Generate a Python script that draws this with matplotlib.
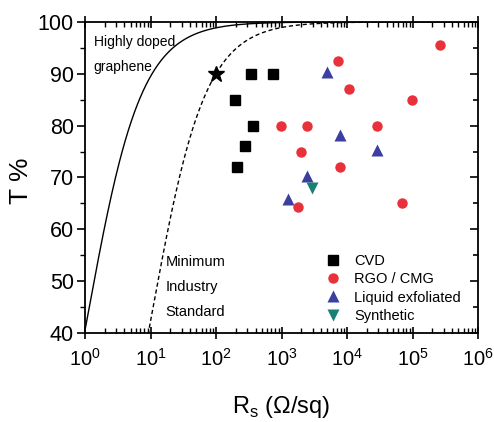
import numpy as np
from matplotlib import pyplot as plt
from matplotlib.ticker import LogLocator, MultipleLocator, NullFormatter

plt.rcParams['font.family'] = ['Liberation Sans', 'DejaVu Sans']
plt.rcParams['mathtext.fontset'] = 'custom'
plt.rcParams['mathtext.rm'] = 'Liberation Sans'

# data
cvd_rs = [340, 750, 195, 360, 275, 207]
cvd_t = [90, 90, 85, 80, 76, 72]

rgo_rs = [2.6e5, 7200, 1.08e4, 9.7e4, 990, 2450, 2.9e4, 1950, 7800, 1750, 6.8e4]
rgo_t = [95.6, 92.5, 87, 85, 80, 80, 80, 75, 72, 64.3, 65]

liq_rs = [4900, 7800, 2.9e4, 2450, 1250]
liq_t = [90.3, 78.2, 75.3, 70.3, 65.8]

syn_rs = [2950]
syn_t = [68]

star_rs = [100]
star_t = [90]

# sigma_dc / sigma_op ratios for the two model curves
ratio_doped = 330
ratio_industry = 35

rs = np.logspace(0, 6, 400)
def transmittance(rs, ratio):
    return 100 * (1 + 188.5 / (rs * ratio)) ** -2

fig = plt.figure(figsize=(4.94, 4.22), dpi=100)
ax = fig.add_axes([0.172, 0.211, 0.796, 0.737])

ax.plot(rs, transmittance(rs, ratio_doped), color='black', lw=1.0)
ax.plot(rs, transmittance(rs, ratio_industry), color='black', lw=1.0, ls=(0, (3, 2)))

ax.plot(cvd_rs, cvd_t, 's', color='black', ms=6.5, ls='none', label='CVD')
ax.plot(rgo_rs, rgo_t, 'o', color='#e8313a', mec='none', ms=7.5, ls='none', label='RGO / CMG')
ax.plot(liq_rs, liq_t, '^', color='#3b3fa0', mec='none', ms=8.5, ls='none', label='Liquid exfoliated')
ax.plot(syn_rs, syn_t, 'v', color='#1a8076', mec='none', ms=8.5, ls='none', label='Synthetic')
ax.plot(star_rs, star_t, '*', color='black', ms=12, ls='none')

ax.set_xscale('log')
ax.set_xlim(1, 1e6)
ax.set_ylim(40, 100)
ax.yaxis.set_major_locator(MultipleLocator(10))
ax.yaxis.set_minor_locator(MultipleLocator(5))
ax.xaxis.set_major_locator(LogLocator(base=10, numticks=10))
ax.xaxis.set_minor_locator(LogLocator(base=10, subs=np.arange(2, 10), numticks=20))
ax.xaxis.set_minor_formatter(NullFormatter())

for s in ax.spines.values():
    s.set_linewidth(1.3)
ax.tick_params(axis='both', which='major', width=1.2, length=6)
ax.tick_params(axis='both', which='minor', width=1.0, length=3.5)
ax.tick_params(axis='y', which='major', labelsize=15.5, pad=2)
ax.tick_params(axis='x', which='major', labelsize=14.5, direction='inout', top=True, length=8, pad=7)
ax.tick_params(axis='x', which='minor', direction='in', top=True)
ax.tick_params(axis='y', which='both', direction='out', right=False)

# right side ticks point inward
sec = ax.secondary_yaxis('right')
sec.yaxis.set_major_locator(MultipleLocator(10))
sec.yaxis.set_minor_locator(MultipleLocator(5))
sec.tick_params(which='both', direction='in', labelright=False, width=1.2)
sec.tick_params(which='major', length=6)
sec.tick_params(which='minor', length=3.5)
sec.spines['right'].set_visible(False)

ax.set_xlabel(r'R$_\mathregular{s}$ ($\Omega$/sq)', fontsize=17, labelpad=17)
ax.set_ylabel('T %', fontsize=19)
ax.yaxis.set_label_coords(-0.132, 0.49)

ax.text(1.35, 96.2, 'Highly doped', fontsize=10, va='center')
ax.text(1.35, 91.4, 'graphene', fontsize=10, va='center')
ax.text(17, 53.6, 'Minimum', fontsize=10.5, va='center')
ax.text(17, 48.8, 'Industry', fontsize=10.5, va='center')
ax.text(17, 44.0, 'Standard', fontsize=10.5, va='center')

ax.legend(loc='lower right', bbox_to_anchor=(0.99, -0.01), frameon=False, fontsize=10.5,
          handletextpad=0.9, labelspacing=0.3, handlelength=1.2)

fig.savefig('out.png', dpi=100)
